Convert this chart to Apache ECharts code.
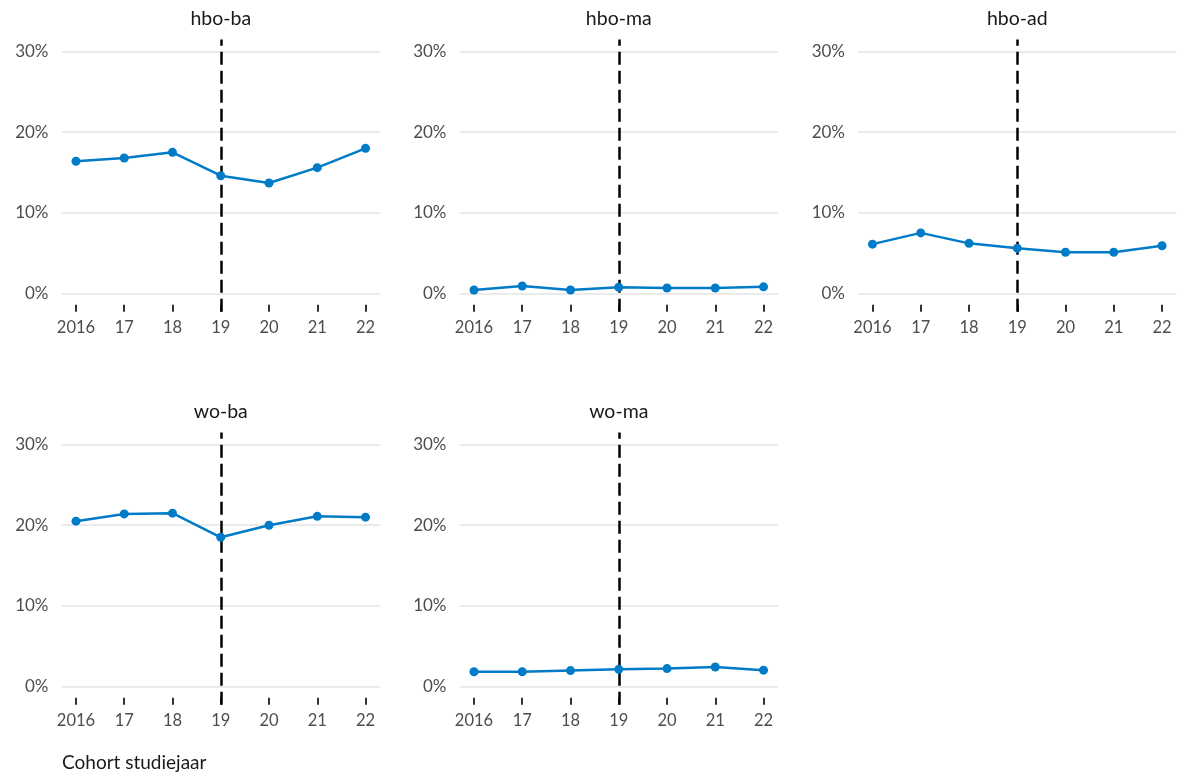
<!DOCTYPE html>
<html>
<head>
<meta charset="utf-8">
<script src="https://cdn.jsdelivr.net/npm/echarts@6/dist/echarts.min.js"></script>
<style>
html,body{margin:0;padding:0;background:#fff;}
#chart{width:1181px;height:775px;}
</style>
</head>
<body>
<div id="chart"></div>
<script>
// ---- data ----
const years = [2016, 2017, 2018, 2019, 2020, 2021, 2022];
const xTickLabels = ['2016', '17', '18', '19', '20', '21', '22'];
const yTickValues = [0, 10, 20, 30];
const panelNames = ['hbo-ba', 'hbo-ma', 'hbo-ad', 'wo-ba', 'wo-ma'];
const hboBa = [16.4, 16.8, 17.5, 14.6, 13.7, 15.6, 18.0];
const hboMa = [0.4, 0.9, 0.4, 0.75, 0.65, 0.65, 0.8];
const hboAd = [6.1, 7.5, 6.2, 5.6, 5.1, 5.1, 5.9];
const woBa = [20.5, 21.4, 21.5, 18.5, 20.0, 21.1, 21.0];
const woMa = [1.8, 1.8, 1.95, 2.1, 2.2, 2.4, 2.0];
const markerYear = 2019;
const xAxisTitle = 'Cohort studiejaar';

const panelValues = [hboBa, hboMa, hboAd, woBa, woMa];

// ---- layout ----
const colLeft = [61.5, 459.5, 858];
const rowTop = [39.6, 432.6];
const gridW = 318.5;
const gridH = 272.2;
const blue = '#007bc7';
const fontFam = 'Lato, "Noto Sans", sans-serif';

const grids = [], xAxes = [], yAxes = [], series = [], titles = [];
panelNames.forEach((name, i) => {
  const col = i % 3, row = Math.floor(i / 3);
  const left = colLeft[col], top = rowTop[row];
  grids.push({left: left, top: top, width: gridW, height: gridH, containLabel: false});
  xAxes.push({
    type: 'value', gridIndex: i, min: 2015.7, max: 2022.3,
    axisLine: {show: false, onZero: false},
    splitLine: {show: false},
    axisTick: {show: true, inside: true, length: 7, customValues: years,
      lineStyle: {color: '#333', width: 2}},
    axisLabel: {customValues: years, margin: 7, color: '#4d4d4d', fontSize: 16.5,
      fontFamily: fontFam,
      formatter: v => { const k = years.indexOf(Math.round(v)); return k >= 0 ? xTickLabels[k] : ''; }}
  });
  yAxes.push({
    type: 'value', gridIndex: i, min: -2.3, max: 31.5,
    splitNumber: 3, minInterval: 10, maxInterval: 10,
    axisLine: {show: false, onZero: false},
    axisTick: {show: false, customValues: yTickValues},
    splitLine: {show: true, lineStyle: {color: '#ebebeb', width: 2}},
    axisLabel: {customValues: yTickValues, margin: 13, color: '#4d4d4d', fontSize: 17,
      fontFamily: fontFam,
      formatter: v => (yTickValues.indexOf(Math.round(v * 100) / 100) >= 0 ? v + '%' : '')}
  });
  series.push({
    type: 'line', xAxisIndex: i, yAxisIndex: i,
    data: years.map((y, k) => [y, panelValues[i][k]]),
    symbol: 'circle', symbolSize: 9,
    lineStyle: {color: blue, width: 2.5},
    itemStyle: {color: blue},
    z: 3,
    markLine: {
      silent: true, symbol: ['none', 'none'], label: {show: false},
      lineStyle: {color: '#000', width: 2.5, type: [13, 6]},
      data: [{xAxis: markerYear}],
      z: 2
    }
  });
  titles.push({
    text: name, left: left + gridW / 2, top: top - 31, textAlign: 'center', padding: 0,
    textStyle: {fontSize: 19.5, fontWeight: 'normal', color: '#1a1a1a', fontFamily: fontFam}
  });
});
titles.push({
  text: xAxisTitle, left: 62, top: 753, padding: 0,
  textStyle: {fontSize: 19, fontWeight: 'normal', color: '#1a1a1a', fontFamily: fontFam}
});

const chart = echarts.init(document.getElementById('chart'), null, {renderer: 'canvas'});
chart.setOption({
  animation: false,
  backgroundColor: '#fff',
  title: titles,
  grid: grids,
  xAxis: xAxes,
  yAxis: yAxes,
  series: series
});
</script>
</body>
</html>
